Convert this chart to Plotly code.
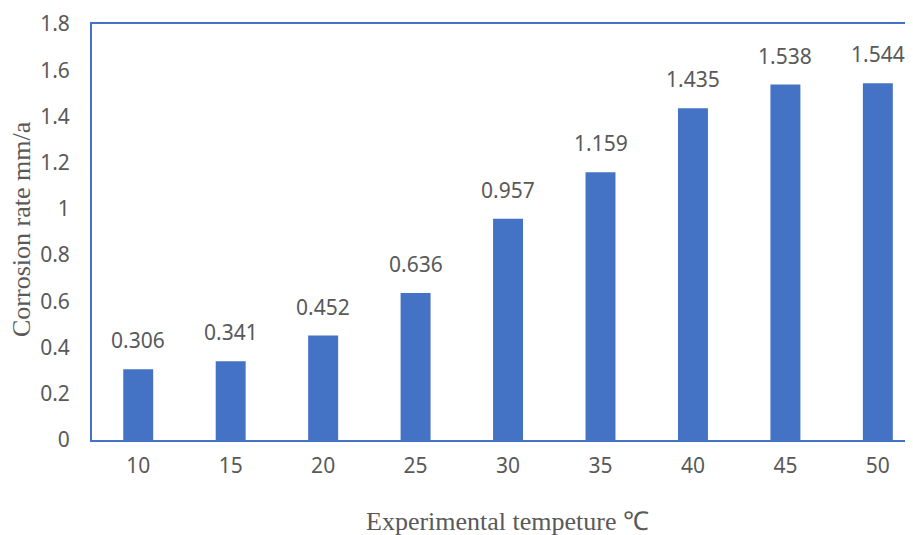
import plotly.graph_objects as go

temps = ["10", "15", "20", "25", "30", "35", "40", "45", "50"]
rates = [0.306, 0.341, 0.452, 0.636, 0.957, 1.159, 1.435, 1.538, 1.544]
y_ticks = [0, 0.2, 0.4, 0.6, 0.8, 1.0, 1.2, 1.4, 1.6, 1.8]
y_tick_labels = ["0", "0.2", "0.4", "0.6", "0.8", "1", "1.2", "1.4", "1.6", "1.8"]

BLUE = "#4472C4"
GRAY = "#595959"
FONT = "Noto Sans"

# page body has an 8px default margin; figure is sized/offset to compensate
OFF = 8
W, H = 913 - OFF, 535 - OFF
ml, mr, mt, mb = 92 - OFF, 0, 24 - OFF, 535 - 440
pw, ph = W - ml - mr, H - mt - mb


def px2paper(px, py):
    return (px - OFF - ml) / pw, 1 - (py - OFF - mt) / ph


fig = go.Figure()
fig.add_trace(go.Bar(
    x=list(range(len(temps))), y=rates, width=0.324,
    marker=dict(color=BLUE, line=dict(width=0)),
    hoverinfo="skip",
))

for i, v in enumerate(rates):
    fig.add_annotation(x=i, y=v, xref="x", yref="y", text=f"{v:.3f}",
                       showarrow=False, yanchor="bottom", yshift=13,
                       font=dict(family=FONT, size=21, color=GRAY))

tx, ty = px2paper(508, 521)
fig.add_annotation(x=tx, y=ty, xref="paper", yref="paper", xanchor="center", yanchor="middle",
                   text="Experimental tempeture \u2103", showarrow=False,
                   font=dict(family="Liberation Serif", size=26, color=GRAY))
yx, yy = px2paper(21, 229)
fig.add_annotation(x=yx, y=yy, xref="paper", yref="paper", xanchor="center", yanchor="middle",
                   text="Corrosion rate mm/a", showarrow=False, textangle=-90,
                   font=dict(family="Liberation Serif", size=26, color=GRAY))

fig.update_layout(
    width=W, height=H,
    margin=dict(l=ml, r=mr, t=mt, b=mb, pad=0),
    plot_bgcolor="white", paper_bgcolor="white",
    showlegend=False,
    xaxis=dict(
        range=[-0.5, 8.38],
        tickmode="array", tickvals=list(range(len(temps))), ticktext=temps,
        showgrid=False, zeroline=False,
        showline=True, mirror=True, linecolor=BLUE, linewidth=2,
        ticks="", ticklabelstandoff=6,
        tickfont=dict(family=FONT, size=21, color=GRAY),
    ),
    yaxis=dict(
        range=[0, 1.8],
        tickmode="array", tickvals=y_ticks, ticktext=y_tick_labels,
        showgrid=False, zeroline=False,
        showline=True, linecolor=BLUE, linewidth=2,
        ticks="", ticklabelstandoff=16,
        tickfont=dict(family=FONT, size=21, color=GRAY),
    ),
)

fig.write_html("out.html")
